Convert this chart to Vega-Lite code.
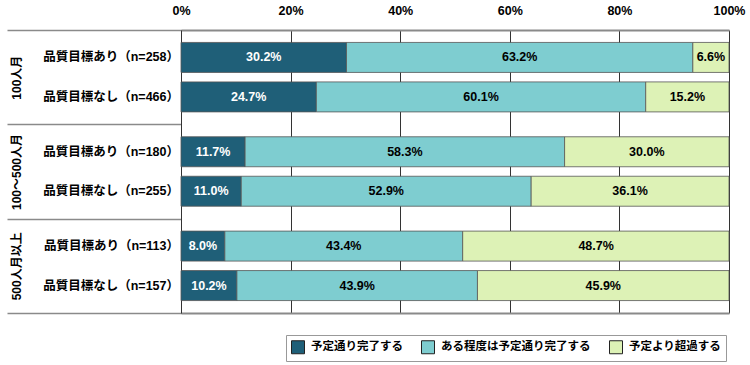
{
  "$schema": "https://vega.github.io/schema/vega-lite/v6.json",
  "width": 548,
  "height": 283,
  "autosize": {"type": "none"},
  "padding": {"left": 181, "top": 30, "right": 21, "bottom": 52},
  "config": {
    "view": {"stroke": null},
    "font": "Liberation Sans, Noto Sans CJK JP",
    "axis": {"labelColor": "black"}
  },
  "data": {
    "values": [
      {"group": "100人月", "item": "あり", "label": "品質目標あり（n=258）", "series": "予定通り完了する", "pct": 30.2},
      {"group": "100人月", "item": "あり", "label": "品質目標あり（n=258）", "series": "ある程度は予定通り完了する", "pct": 63.2},
      {"group": "100人月", "item": "あり", "label": "品質目標あり（n=258）", "series": "予定より超過する", "pct": 6.6},
      {"group": "100人月", "item": "なし", "label": "品質目標なし（n=466）", "series": "予定通り完了する", "pct": 24.7},
      {"group": "100人月", "item": "なし", "label": "品質目標なし（n=466）", "series": "ある程度は予定通り完了する", "pct": 60.1},
      {"group": "100人月", "item": "なし", "label": "品質目標なし（n=466）", "series": "予定より超過する", "pct": 15.2},
      {"group": "100〜500人月", "item": "あり", "label": "品質目標あり（n=180）", "series": "予定通り完了する", "pct": 11.7},
      {"group": "100〜500人月", "item": "あり", "label": "品質目標あり（n=180）", "series": "ある程度は予定通り完了する", "pct": 58.3},
      {"group": "100〜500人月", "item": "あり", "label": "品質目標あり（n=180）", "series": "予定より超過する", "pct": 30.0},
      {"group": "100〜500人月", "item": "なし", "label": "品質目標なし（n=255）", "series": "予定通り完了する", "pct": 11.0},
      {"group": "100〜500人月", "item": "なし", "label": "品質目標なし（n=255）", "series": "ある程度は予定通り完了する", "pct": 52.9},
      {"group": "100〜500人月", "item": "なし", "label": "品質目標なし（n=255）", "series": "予定より超過する", "pct": 36.1},
      {"group": "500人月以上", "item": "あり", "label": "品質目標あり（n=113）", "series": "予定通り完了する", "pct": 8.0},
      {"group": "500人月以上", "item": "あり", "label": "品質目標あり（n=113）", "series": "ある程度は予定通り完了する", "pct": 43.4},
      {"group": "500人月以上", "item": "あり", "label": "品質目標あり（n=113）", "series": "予定より超過する", "pct": 48.7},
      {"group": "500人月以上", "item": "なし", "label": "品質目標なし（n=157）", "series": "予定通り完了する", "pct": 10.2},
      {"group": "500人月以上", "item": "なし", "label": "品質目標なし（n=157）", "series": "ある程度は予定通り完了する", "pct": 43.9},
      {"group": "500人月以上", "item": "なし", "label": "品質目標なし（n=157）", "series": "予定より超過する", "pct": 45.9}
    ]
  },
  "transform": [
    {"calculate": "indexof(['予定通り完了する','ある程度は予定通り完了する','予定より超過する'], datum.series)", "as": "o"},
    {"stack": "pct", "groupby": ["group", "item"], "sort": [{"field": "o", "order": "ascending"}], "as": ["x0", "x1"]},
    {"calculate": "(datum.x0 + datum.x1) / 2", "as": "xm"},
    {"calculate": "format(datum.pct, '.1f') + '%'", "as": "txt"}
  ],
  "encoding": {
    "y": {
      "field": "group", "type": "nominal",
      "sort": ["100人月", "100〜500人月", "500人月以上"],
      "scale": {"paddingInner": 0, "paddingOuter": 0},
      "axis": {
        "title": null, "orient": "left", "tickBand": "extent", "tickSize": 174,
        "tickColor": "#8a8a8a", "tickWidth": 1.5, "domainColor": "#333", "domainWidth": 1,
        "labelAngle": 270, "labelAlign": "center", "labelBaseline": "middle", "labelPadding": -9,
        "labelFontSize": 12, "labelFontWeight": "bold", "grid": false
      }
    },
    "yOffset": {
      "field": "item", "type": "nominal", "sort": ["あり", "なし"],
      "scale": {"paddingInner": 0.24, "paddingOuter": 0.315}
    }
  },
  "layer": [
    {
      "mark": {"type": "bar", "stroke": "#555", "strokeWidth": 0.8},
      "encoding": {
        "x": {
          "field": "x0", "type": "quantitative",
          "scale": {"domain": [0, 100], "clamp": true, "nice": false},
          "axis": {
            "title": null, "orient": "top", "values": [0, 20, 40, 60, 80, 100],
            "labelExpr": "datum.value + '%'", "ticks": false, "labelFlush": false,
            "domainColor": "#8a8a8a", "domainWidth": 2, "grid": true, "gridColor": "#333", "gridWidth": 1,
            "labelFontSize": 12.5, "labelFontWeight": "bold", "labelPadding": 13
          }
        },
        "x2": {"field": "x1"},
        "color": {
          "field": "series", "type": "nominal",
          "scale": {
            "domain": ["予定通り完了する", "ある程度は予定通り完了する", "予定より超過する"],
            "range": ["#1f5f78", "#7ecdd0", "#ddf2b6"]
          },
          "legend": {
            "title": null, "orient": "none", "legendX": 105, "legendY": 305, "direction": "horizontal",
            "symbolType": "square", "symbolSize": 169, "symbolStrokeColor": "#222", "symbolStrokeWidth": 1,
            "symbolOpacity": 1, "labelFontSize": 11.5, "labelFontWeight": "bold", "labelColor": "black",
            "columnPadding": 16, "strokeColor": "#999", "padding": 5, "labelOffset": 6, "fillColor": "white"
          }
        }
      }
    },
    {
      "mark": {"type": "text", "fontSize": 12.5, "fontWeight": "bold"},
      "encoding": {
        "x": {
          "field": "xm", "type": "quantitative",
          "scale": {"domain": [0, 100], "clamp": true, "nice": false},
          "axis": {"title": null, "orient": "bottom", "labels": false, "ticks": false, "grid": false, "domainColor": "#8a8a8a", "domainWidth": 2}
        },
        "text": {"field": "txt"},
        "color": {"condition": {"test": "datum.o == 0", "value": "white"}, "value": "black"}
      }
    },
    {
      "transform": [{"filter": "datum.o == 0"}],
      "mark": {"type": "text", "fontSize": 12.5, "fontWeight": "bold", "align": "right", "dx": -2, "color": "black"},
      "encoding": {
        "x": {"datum": 0, "type": "quantitative", "axis": null},
        "text": {"field": "label"}
      }
    }
  ],
  "resolve": {"axis": {"x": "independent"}}
}
